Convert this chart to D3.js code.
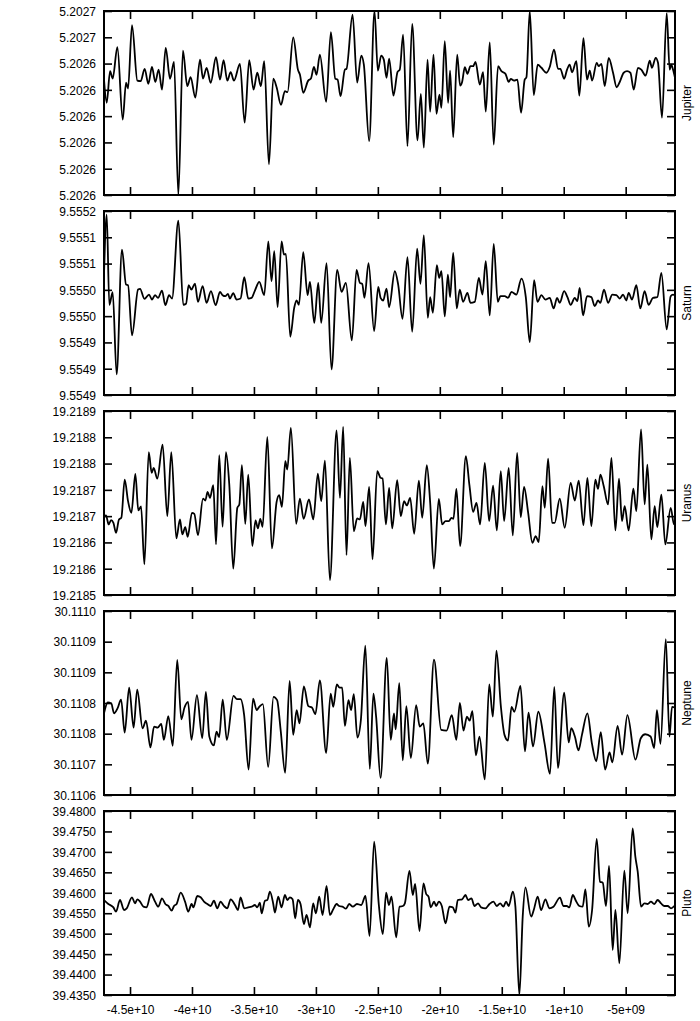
<!DOCTYPE html>
<html>
<head>
<meta charset="utf-8">
<script src="https://cdn.jsdelivr.net/npm/d3@7"></script>
<style>
  body { margin: 0; background: #fff; }
</style>
</head>
<body>
<svg id="chart"></svg>
<script>
const width = 700;
const height = 1021;
const left = 104;
const right = 675;
const panelTop = 11;
const panelHeight = 184;
const panelStep = 200;
const font = "'Liberation Sans', Arial, Helvetica, sans-serif";

// time axis, values in units of 1e9
const xDomain = [-47.1, -1.02];
const xTickValues = [-45, -40, -35, -30, -25, -20, -15, -10, -5];
const xTickLabels = ["-4.5e+10", "-4e+10", "-3.5e+10", "-3e+10", "-2.5e+10", "-2e+10", "-1.5e+10", "-1e+10", "-5e+09"];

const planetNames = ["Jupiter", "Saturn", "Uranus", "Neptune", "Pluto"];

const jupiterDomain = [5.20259, 5.20266];
const jupiterTickLabels = ["5.2027", "5.2027", "5.2026", "5.2026", "5.2026", "5.2026", "5.2026", "5.2026"];
const saturnDomain = [9.55485, 9.5552];
const saturnTickLabels = ["9.5552", "9.5551", "9.5551", "9.5550", "9.5550", "9.5549", "9.5549", "9.5549"];
const uranusDomain = [19.21855, 19.2189];
const uranusTickLabels = ["19.2189", "19.2188", "19.2188", "19.2187", "19.2187", "19.2186", "19.2186", "19.2185"];
const neptuneDomain = [30.1106, 30.111];
const neptuneTickLabels = ["30.1110", "30.1109", "30.1109", "30.1108", "30.1108", "30.1107", "30.1106"];
const plutoDomain = [39.435, 39.48];
const plutoTickLabels = ["39.4800", "39.4750", "39.4700", "39.4650", "39.4600", "39.4550", "39.4500", "39.4450", "39.4400", "39.4350"];

const jupiterT = [-47.10,-46.88,-46.61,-46.40,-46.02,-45.59,-45.32,-45.16,-44.84,-44.41,-44.14,-43.82,-43.52,-43.23,-42.96,-42.69,-42.42,-42.12,-41.77,-41.45,
  -41.10,-40.73,-40.38,-40.11,-39.73,-39.35,-39.11,-38.82,-38.49,-38.06,-37.74,-37.45,-37.15,-36.88,-36.61,-36.13,-35.75,-35.38,-35.03,-34.73,
  -34.44,-34.17,-33.79,-33.44,-33.17,-32.82,-32.50,-32.29,-31.83,-31.45,-31.29,-31.02,-30.62,-30.40,-30.16,-29.95,-29.68,-29.17,-28.79,-28.44,
  -28.25,-28.01,-27.66,-27.53,-27.04,-26.67,-26.34,-26.13,-25.70,-25.27,-25.00,-24.73,-24.52,-24.30,-24.09,-23.74,-23.41,-23.23,-22.96,-22.61,
  -22.23,-21.80,-21.53,-21.29,-20.99,-20.78,-20.51,-20.27,-20.03,-19.87,-19.60,-19.33,-19.17,-18.92,-18.60,-18.36,-18.20,-17.98,-17.77,-17.53,
  -17.31,-17.12,-16.77,-16.51,-16.29,-15.97,-15.65,-15.30,-15.03,-14.70,-14.44,-14.27,-14.01,-13.74,-13.44,-13.15,-13.01,-12.74,-12.42,-12.10,
  -11.80,-11.40,-11.13,-10.78,-10.46,-10.27,-9.97,-9.73,-9.52,-9.33,-8.98,-8.74,-8.41,-8.12,-7.90,-7.71,-7.34,-7.18,-6.96,-6.69,
  -6.37,-6.02,-5.73,-5.51,-5.16,-4.89,-4.62,-4.35,-4.01,-3.74,-3.39,-3.06,-2.88,-2.58,-2.39,-2.07,-1.69,-1.45,-1.32,-1.18,-1.02];
const jupiterA = [5.2026339,5.2026251,5.2026371,5.2026343,5.2026462,5.2026187,5.2026327,5.2026305,5.2026546,5.2026335,
  5.2026333,5.2026380,5.2026323,5.2026387,5.2026330,5.2026377,5.2026301,5.2026460,5.2026342,5.2026406,
  5.2025900,5.2026449,5.2026314,5.2026348,5.2026271,5.2026415,5.2026343,5.2026384,5.2026327,5.2026424,
  5.2026339,5.2026413,5.2026335,5.2026367,5.2026335,5.2026399,5.2026175,5.2026413,5.2026301,5.2026365,
  5.2026314,5.2026409,5.2026017,5.2026343,5.2026310,5.2026243,5.2026295,5.2026291,5.2026500,5.2026377,
  5.2026358,5.2026289,5.2026335,5.2026343,5.2026387,5.2026357,5.2026434,5.2026254,5.2026520,5.2026343,
  5.2026339,5.2026276,5.2026377,5.2026380,5.2026586,5.2026328,5.2026430,5.2026396,5.2026105,5.2026600,
  5.2026373,5.2026430,5.2026415,5.2026346,5.2026419,5.2026278,5.2026368,5.2026377,5.2026510,5.2026086,
  5.2026551,5.2026108,5.2026285,5.2026080,5.2026415,5.2026217,5.2026434,5.2026209,5.2026282,5.2026232,
  5.2026485,5.2026251,5.2026373,5.2026120,5.2026434,5.2026316,5.2026330,5.2026386,5.2026361,5.2026390,
  5.2026390,5.2026406,5.2026320,5.2026367,5.2026217,5.2026481,5.2026092,5.2026390,5.2026371,5.2026361,
  5.2026330,5.2026342,5.2026335,5.2026339,5.2026213,5.2026339,5.2026348,5.2026600,5.2026280,5.2026396,
  5.2026384,5.2026365,5.2026387,5.2026453,5.2026380,5.2026380,5.2026342,5.2026377,5.2026396,5.2026367,
  5.2026409,5.2026278,5.2026497,5.2026339,5.2026373,5.2026335,5.2026403,5.2026390,5.2026399,5.2026314,
  5.2026422,5.2026365,5.2026310,5.2026327,5.2026365,5.2026371,5.2026365,5.2026301,5.2026384,5.2026377,
  5.2026354,5.2026411,5.2026384,5.2026422,5.2026403,5.2026194,5.2026592,5.2026377,5.2026396,5.2026377,5.2026346];

const saturnT = [-47.10,-46.88,-46.67,-46.40,-46.08,-45.65,-45.32,-45.16,-44.84,-44.35,-44.19,-43.84,-43.47,-43.23,-42.98,-42.74,-42.42,-42.15,-41.85,-41.61,
  -41.10,-40.70,-40.48,-40.27,-40.05,-39.76,-39.52,-39.14,-38.82,-38.47,-38.09,-37.74,-37.53,-37.31,-37.10,-36.94,-36.67,-36.40,-36.08,-35.78,
  -35.46,-35.19,-34.92,-34.57,-34.17,-33.84,-33.58,-33.36,-33.09,-32.77,-32.58,-32.42,-32.07,-31.75,-31.56,-31.37,-31.02,-30.67,-30.48,-30.13,
  -29.81,-29.57,-29.14,-28.74,-28.28,-27.93,-27.58,-27.10,-26.72,-26.45,-26.26,-26.08,-25.75,-25.30,-24.97,-24.78,-24.57,-24.30,-24.09,
  -23.63,-23.36,-23.01,-22.61,-22.23,-21.83,-21.56,-21.29,-20.97,-20.78,-20.56,-20.24,-20.05,-19.87,-19.60,-19.35,-19.17,-18.92,-18.63,-18.39,
  -18.12,-17.77,-17.53,-17.18,-16.85,-16.56,-16.29,-15.97,-15.65,-15.32,-15.11,-14.76,-14.49,-14.22,-13.82,-13.41,-13.06,-12.74,-12.39,-12.12,
  -11.80,-11.48,-11.13,-10.81,-10.54,-10.32,-9.97,-9.70,-9.44,-9.11,-8.90,-8.71,-8.44,-8.12,-7.77,-7.50,-7.23,-7.04,-6.75,-6.42,
  -6.08,-5.75,-5.48,-5.21,-4.95,-4.76,-4.49,-4.14,-3.82,-3.47,-3.15,-2.80,-2.45,-2.12,-1.69,-1.37,-1.18,-1.02];
const saturnA = [9.5550791,9.5551930,9.5550215,9.5550457,9.5548892,9.5551266,9.5550601,9.5550589,9.5549633,9.5550506,
  9.5550519,9.5550329,9.5550411,9.5550316,9.5550399,9.5550348,9.5550487,9.5550209,9.5550399,9.5550335,
  9.5551816,9.5550215,9.5550234,9.5550589,9.5550506,9.5550620,9.5550272,9.5550570,9.5550253,9.5550475,
  9.5550209,9.5550462,9.5550399,9.5550380,9.5550424,9.5550335,9.5550437,9.5550316,9.5550335,9.5550741,
  9.5550335,9.5550348,9.5550487,9.5550652,9.5550399,9.5551424,9.5550665,9.5551234,9.5550171,9.5551424,
  9.5551171,9.5551184,9.5549608,9.5550158,9.5550298,9.5550215,9.5551215,9.5550399,9.5550652,9.5549873,
  9.5550633,9.5549873,9.5551006,9.5548987,9.5550880,9.5550462,9.5550633,9.5549538,9.5550880,9.5550633,
  9.5550614,9.5550348,9.5551006,9.5549715,9.5550557,9.5550348,9.5550298,9.5550525,9.5550171,
  9.5550854,9.5550601,9.5549949,9.5551120,9.5549703,9.5551285,9.5550614,9.5551538,9.5549968,9.5550361,
  9.5550063,9.5550968,9.5550728,9.5550854,9.5549994,9.5550791,9.5550361,9.5551203,9.5550146,9.5550506,
  9.5550272,9.5550443,9.5550253,9.5550272,9.5550728,9.5550411,9.5551044,9.5550013,9.5551373,9.5550272,
  9.5550380,9.5550380,9.5550348,9.5550462,9.5550411,9.5550715,9.5550361,9.5549506,9.5550684,9.5550272,
  9.5550399,9.5550316,9.5550348,9.5550146,9.5550348,9.5550253,9.5550475,9.5550361,9.5550215,9.5550348,
  9.5550285,9.5550538,9.5550013,9.5550380,9.5550361,9.5550190,9.5550298,9.5550253,9.5550506,9.5550253,
  9.5550411,9.5550399,9.5550335,9.5550411,9.5550298,9.5550443,9.5550316,9.5550589,9.5550146,9.5550475,
  9.5550215,9.5550348,9.5550361,9.5550823,9.5549747,9.5550380,9.5550411,9.5550399];

const uranusT = [-47.10,-46.94,-46.72,-46.53,-46.34,-46.13,-45.89,-45.70,-45.43,-45.16,-44.89,-44.57,-44.33,-44.11,-43.84,-43.49,-43.25,-43.09,-42.80,-42.37,
  -41.99,-41.67,-41.26,-40.97,-40.78,-40.54,-40.35,-40.00,-39.81,-39.52,-39.11,-38.92,-38.74,-38.55,-38.28,-38.06,-37.80,-37.53,-37.26,-36.99,
  -36.67,-36.34,-36.18,-35.97,-35.70,-35.46,-35.13,-34.87,-34.68,-34.49,-34.30,-33.92,-33.55,-33.17,-32.96,-32.74,-32.47,-32.31,-32.02,-31.59,
  -31.29,-30.99,-30.56,-30.21,-29.84,-29.57,-29.27,-28.87,-28.33,-28.06,-27.80,-27.53,-27.26,-26.94,-26.67,-26.45,-26.18,-26.00,-25.70,-25.43,
  -25.05,-24.78,-24.62,-24.35,-24.09,
  -23.84,-23.44,-23.15,-22.88,-22.66,-22.39,-22.07,-21.69,-21.42,-21.05,-20.78,-20.48,-20.08,-19.81,-19.54,-19.27,-19.06,-18.90,-18.66,-18.36,
  -17.90,-17.61,-17.31,-17.04,-16.75,-16.37,-16.02,-15.70,-15.40,-15.08,-14.81,-14.44,-14.11,-13.76,-13.47,-13.20,-12.88,-12.53,-12.26,-12.02,
  -11.72,-11.53,-11.26,-10.94,-10.73,-10.32,-9.92,-9.44,-9.11,-8.79,-8.41,-8.09,-7.77,-7.45,-7.23,-7.04,-6.77,-6.42,-6.15,-5.83,
  -5.54,-5.30,-5.08,-4.76,-4.38,-4.14,-3.76,-3.47,-3.25,-2.93,-2.66,-2.45,-2.12,-1.80,-1.37,-1.10,-1.02];
const uranusA = [19.2187000,19.2187013,19.2186842,19.2186924,19.2186873,19.2186683,19.2186937,19.2186968,19.2187696,19.2187285,
  19.2187063,19.2187804,19.2187108,19.2187184,19.2186082,19.2188215,19.2187823,19.2187918,19.2187715,19.2188361,
  19.2187000,19.2188215,19.2186576,19.2186937,19.2186652,19.2186791,19.2186608,19.2187063,19.2187044,19.2186639,
  19.2187335,19.2187298,19.2187462,19.2187348,19.2187589,19.2186462,19.2188158,19.2186798,19.2188215,19.2187601,
  19.2186000,19.2187158,19.2187222,19.2187968,19.2186854,19.2187791,19.2186430,19.2186918,19.2186766,19.2186949,
  19.2186798,19.2188506,19.2186386,19.2187272,19.2187399,19.2187177,19.2188044,19.2187886,19.2188677,19.2186854,
  19.2187335,19.2186949,19.2187317,19.2186937,19.2187810,19.2187285,19.2188057,19.2185785,19.2188633,19.2187348,
  19.2188696,19.2186260,19.2188108,19.2186715,19.2186956,19.2186937,19.2187272,19.2186810,19.2187557,19.2186177,
  19.2187854,19.2187728,19.2187715,19.2186842,19.2187538,
  19.2186766,19.2187684,19.2187000,19.2187285,19.2187203,19.2187348,19.2186665,19.2187677,19.2186968,19.2187968,
  19.2187266,19.2186001,19.2187329,19.2186842,19.2186905,19.2186905,19.2186968,19.2186949,19.2187519,19.2186430,
  19.2188139,19.2187589,19.2187082,19.2187253,19.2186842,19.2188013,19.2186905,19.2187582,19.2186728,19.2187854,
  19.2186905,19.2187918,19.2186633,19.2188203,19.2186981,19.2187557,19.2187082,19.2186494,19.2186620,19.2186506,
  19.2187570,19.2187158,19.2188095,19.2186873,19.2186873,19.2187335,19.2186779,19.2187633,19.2187298,19.2187677,
  19.2186829,19.2187728,19.2186810,19.2187696,19.2187519,19.2187791,19.2187570,19.2187222,19.2188108,19.2186728,
  19.2187715,19.2186905,19.2187190,19.2186728,19.2187525,19.2187095,19.2188652,19.2187222,19.2187981,19.2186557,
  19.2187190,19.2186791,19.2187411,19.2186462,19.2187158,19.2186842,19.2186873];

const neptuneT = [-47.09,-46.80,-46.51,-46.29,-46.01,-45.72,-45.43,-45.07,-44.71,-44.42,-43.99,-43.71,-43.35,-43.06,-42.77,-42.48,-42.27,-41.91,-41.55,-41.19,
  -40.86,-40.61,-40.32,-40.04,-39.60,-39.17,-38.88,-38.60,-38.24,-38.02,-37.81,-37.52,-37.19,-36.65,-36.37,-36.08,-35.79,-35.43,-35.07,-34.78,
  -34.57,-34.28,-33.85,-33.42,-33.13,-32.84,-32.48,-32.12,-31.83,-31.55,-31.33,-30.97,-30.61,-30.32,-30.04,-29.68,-29.17,-28.81,-28.60,-28.31,
  -28.09,-27.88,-27.66,-27.37,-27.16,-26.94,-26.65,-26.37,-26.01,-25.65,-25.36,-25.14,-24.78,-24.28,-23.96,-23.70,-23.56,-23.27,-22.99,-22.70,
  -22.34,-21.91,-21.62,-21.33,-20.97,-20.47,-19.89,-19.46,-19.03,-18.67,-18.38,-18.09,-17.81,-17.59,-17.37,-17.09,-16.80,-16.37,-16.01,-15.72,
  -15.43,-15.07,-14.78,-14.50,-14.21,-13.99,-13.49,-13.13,-12.84,-12.48,-12.05,-11.55,-11.11,-10.76,-10.47,-9.96,-9.60,-9.39,-9.10,-8.81,
  -8.53,-8.09,-7.73,-7.37,-7.01,-6.66,-6.30,-6.08,-5.65,-5.29,-4.86,-4.21,-3.78,-3.42,-2.99,-2.70,-2.48,-2.19,-1.76,-1.47,-1.26,-1.04];
const neptuneA = [30.1107788,30.1108011,30.1107989,30.1107774,30.1107882,30.1108075,30.1107357,30.1108334,30.1107465,30.1108291,
  30.1107451,30.1107616,30.1107034,30.1107487,30.1107465,30.1107544,30.1107199,30.1107716,30.1107070,30.1108937,
  30.1107645,30.1107896,30.1108025,30.1107199,30.1108169,30.1107235,30.1108241,30.1107271,30.1107077,30.1107379,
  30.1107257,30.1108075,30.1107199,30.1108154,30.1108083,30.1108083,30.1107738,30.1106553,30.1108097,30.1107846,
  30.1107917,30.1107975,30.1106610,30.1108133,30.1108061,30.1107400,30.1106481,30.1108478,30.1107307,30.1107846,
  30.1107558,30.1108363,30.1107932,30.1107903,30.1107759,30.1108492,30.1106912,30.1108205,30.1107917,30.1108406,
  30.1108334,30.1108334,30.1107501,30.1108061,30.1107846,30.1108190,30.1107250,30.1107630,30.1109246,30.1106567,
  30.1108205,30.1107702,30.1106373,30.1108980,30.1107199,30.1107774,30.1107429,30.1108434,30.1106754,30.1107932,
  30.1106804,30.1107953,30.1107487,30.1107558,30.1106682,30.1108944,30.1107415,30.1107400,30.1107738,30.1107199,
  30.1108004,30.1107400,30.1107702,30.1107616,30.1107824,30.1106862,30.1107271,30.1106338,30.1108406,30.1107702,
  30.1109138,30.1107917,30.1107307,30.1107185,30.1107917,30.1107810,30.1108370,30.1106948,30.1107788,30.1107056,
  30.1107810,30.1107128,30.1106460,30.1108348,30.1106589,30.1108226,30.1107142,30.1107451,30.1107271,30.1106970,
  30.1107307,30.1107774,30.1107128,30.1106733,30.1107365,30.1106553,30.1106926,30.1106711,30.1107501,30.1106876,
  30.1107738,30.1106768,30.1107235,30.1107321,30.1107271,30.1107020,30.1107846,30.1107113,30.1109390,30.1107271,
  30.1107917,30.1107903];

const plutoT = [-47.10,-46.75,-46.34,-46.13,-45.81,-45.48,-45.27,-44.84,-44.60,-44.41,-44.19,-43.92,-43.66,-43.31,-42.98,-42.72,-42.42,-42.15,-41.91,-41.64,
  -41.45,-41.24,-40.91,-40.56,-40.30,-40.03,-39.89,-39.57,-39.30,-39.03,-38.76,-38.49,-38.23,-37.96,-37.69,-37.42,-37.15,-36.88,-36.53,-36.29,
  -36.08,-35.78,-35.46,-35.19,-34.92,-34.73,-34.52,-34.38,-34.11,-33.92,-33.71,-33.44,-33.31,-33.04,-32.77,-32.50,-32.31,-32.10,-31.88,-31.67,
  -31.45,-31.24,-30.97,-30.75,-30.48,-30.22,-30.00,-29.73,-29.46,-29.14,-28.87,-28.60,-28.33,-28.12,-27.85,-27.58,-27.31,
  -27.02,-26.69,-26.34,-26.00,-25.67,-25.30,-24.92,-24.60,-24.33,-24.11,-23.90,-23.52,-23.25,-22.98,-22.82,-22.45,-22.18,-21.99,-21.64,-21.32,
  -21.10,-20.91,-20.73,-20.46,-20.30,-20.08,-19.84,-19.54,-19.22,-18.95,-18.74,-18.55,-18.20,-17.93,-17.72,-17.45,-17.20,-16.91,-16.67,-16.32,
  -15.99,-15.67,-15.40,-15.13,-14.87,-14.65,-14.44,-14.11,-13.90,-13.58,-13.31,-13.09,-12.63,-12.42,-12.10,-11.83,-11.48,-11.16,-10.83,-10.30,
  -10.03,-9.76,-9.54,-9.27,-9.01,-8.74,-8.47,-8.25,-7.98,-7.71,-7.34,-7.07,-6.85,-6.59,-6.34,-6.05,-5.83,-5.51,-5.11,-4.84,
  -4.44,-4.22,-4.03,-3.76,-3.49,-3.23,-2.96,-2.69,-2.42,-2.15,-1.88,-1.61,-1.34,-1.08];
const plutoA = [39.45823,39.45726,39.45644,39.45538,39.45823,39.45579,39.45620,39.45889,39.45742,39.45840,
  39.45783,39.45660,39.45644,39.45970,39.45783,39.45660,39.45864,39.45726,39.45677,39.45563,
  39.45677,39.45726,39.46003,39.45783,39.45538,39.45726,39.45644,39.45921,39.45889,39.45783,
  39.45726,39.45677,39.45807,39.45620,39.45783,39.45677,39.45620,39.45840,39.45701,39.45579,
  39.45889,39.45620,39.45644,39.45660,39.45701,39.45644,39.45758,39.45497,39.45807,39.45823,
  39.46027,39.45726,39.45514,39.45905,39.45644,39.45946,39.45823,39.45889,39.45840,39.45375,
  39.45823,39.45726,39.45236,39.45457,39.45155,39.45742,39.45497,39.45905,39.45457,39.46166,
  39.45457,39.45595,39.45726,39.45677,39.45660,39.45611,39.45726,
  39.45660,39.45726,39.45701,39.45921,39.44943,39.47250,39.45701,39.44992,39.46003,39.45701,
  39.45905,39.44910,39.45660,39.45677,39.45742,39.46533,39.45946,39.46215,39.45065,39.46231,
  39.45970,39.45905,39.45644,39.45783,39.45677,39.45783,39.45677,39.45253,39.45660,39.45644,
  39.45514,39.45823,39.45840,39.45946,39.45823,39.45864,39.45677,39.45742,39.45644,39.45620,
  39.45726,39.45783,39.45677,39.45742,39.45660,39.45783,39.45677,39.46027,39.45660,39.43500,
  39.45416,39.46133,39.45416,39.45579,39.45905,39.45579,39.45840,39.45620,39.45660,39.45880,
  39.45677,39.45677,39.45644,39.45946,39.45799,39.45677,39.45660,39.46084,39.45171,39.45579,
  39.47315,39.46272,39.46247,39.45677,39.46655,39.44601,39.45579,39.44274,39.46541,39.45497,
  39.47576,39.46883,39.46516,39.45660,39.45742,39.45726,39.45783,39.45726,39.45823,39.45742,
  39.45677,39.45677,39.45620,39.45677];

const panels = [
  { name: planetNames[0], t: jupiterT, a: jupiterA, domain: jupiterDomain, labels: jupiterTickLabels },
  { name: planetNames[1], t: saturnT, a: saturnA, domain: saturnDomain, labels: saturnTickLabels },
  { name: planetNames[2], t: uranusT, a: uranusA, domain: uranusDomain, labels: uranusTickLabels },
  { name: planetNames[3], t: neptuneT, a: neptuneA, domain: neptuneDomain, labels: neptuneTickLabels },
  { name: planetNames[4], t: plutoT, a: plutoA, domain: plutoDomain, labels: plutoTickLabels }
];

const svg = d3.select("#chart")
  .attr("width", width)
  .attr("height", height)
  .style("background", "#fff");

const xScale = d3.scaleLinear().domain(xDomain).range([left, right]);

const styleAxis = g => {
  g.select(".domain").remove();
  g.attr("font-family", font).attr("font-size", 12);
  g.selectAll(".tick line").attr("stroke", "#000").attr("stroke-width", 1.6);
  g.selectAll(".tick text").attr("fill", "#000");
};

panels.forEach((p, i) => {
  const top = panelTop + i * panelStep;
  const bottom = top + panelHeight;
  const n = p.labels.length;

  const yScale = d3.scaleLinear().domain(p.domain).range([bottom, top]);
  const yTicks = d3.range(n).map(k => p.domain[1] - k * (p.domain[1] - p.domain[0]) / (n - 1));

  const graph = svg.append("g").attr("class", "panel");

  graph.append("clipPath")
    .attr("id", "clip-" + i)
    .append("rect")
    .attr("x", left)
    .attr("y", top)
    .attr("width", right - left)
    .attr("height", panelHeight);

  // left axis with labels, right mirror
  graph.append("g")
    .attr("transform", `translate(${left},0)`)
    .call(d3.axisLeft(yScale).tickValues(yTicks)
      .tickFormat((d, k) => p.labels[k])
      .tickSizeInner(-8).tickSizeOuter(0).tickPadding(8))
    .call(styleAxis)
    .selectAll(".tick text").attr("dy", "0.36em");

  graph.append("g")
    .attr("transform", `translate(${right},0)`)
    .call(d3.axisRight(yScale).tickValues(yTicks).tickFormat("")
      .tickSizeInner(-8).tickSizeOuter(0))
    .call(styleAxis);

  // x ticks top and bottom, labels only under the last panel
  graph.append("g")
    .attr("transform", `translate(0,${top})`)
    .call(d3.axisTop(xScale).tickValues(xTickValues).tickFormat("")
      .tickSizeInner(-8).tickSizeOuter(0))
    .call(styleAxis);

  const last = i === panels.length - 1;
  graph.append("g")
    .attr("transform", `translate(0,${bottom})`)
    .call(d3.axisBottom(xScale).tickValues(xTickValues)
      .tickFormat((d, k) => last ? xTickLabels[k] : "")
      .tickSizeInner(-8).tickSizeOuter(0).tickPadding(10))
    .call(styleAxis);

  const line = d3.line()
    .x(d => xScale(d[0]))
    .y(d => yScale(d[1]))
    .curve(d3.curveMonotoneX);

  graph.append("path")
    .datum(d3.zip(p.t, p.a))
    .attr("clip-path", `url(#clip-${i})`)
    .attr("fill", "none")
    .attr("stroke", "#000")
    .attr("stroke-width", 1.8)
    .attr("stroke-linejoin", "round")
    .attr("d", line);

  graph.append("rect")
    .attr("x", left)
    .attr("y", top)
    .attr("width", right - left)
    .attr("height", panelHeight)
    .attr("fill", "none")
    .attr("stroke", "#000")
    .attr("stroke-width", 2);

  graph.append("text")
    .attr("transform", `translate(691,${(top + bottom) / 2}) rotate(-90)`)
    .attr("text-anchor", "middle")
    .attr("font-family", font)
    .attr("font-size", 12)
    .attr("fill", "#000")
    .text(p.name);
});
</script>
</body>
</html>
